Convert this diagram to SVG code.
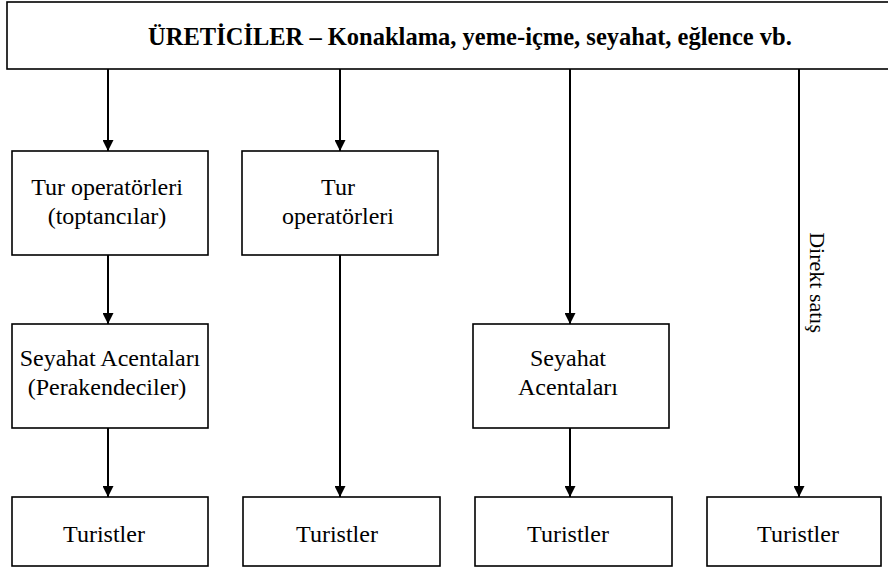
<svg xmlns="http://www.w3.org/2000/svg" width="888" height="572" viewBox="0 0 888 572">
  <defs>
    <marker id="arrow" viewBox="0 0 11 11" refX="11" refY="5.5" markerWidth="11" markerHeight="11" markerUnits="userSpaceOnUse" orient="auto">
      <path d="M0,0 L11,5.5 L0,11 Z" fill="#000"/>
    </marker>
    <style>
      .box { fill: #fff; stroke: #000; stroke-width: 1.6; }
      .lbl { font-family: "Liberation Serif", "Times New Roman", serif; font-size: 24px; fill: #000; text-anchor: middle; }
      .title { font-weight: bold; font-size: 24.5px; }
      .side { font-size: 22px; text-anchor: end; }
      .edge { stroke: #000; stroke-width: 2; fill: none; marker-end: url(#arrow); }
    </style>
  </defs>
  <rect width="888" height="572" fill="#fff"/>

  <g font-family="Liberation Serif, serif">
    <g id="ureticiler">
      <rect class="box" x="7" y="2" width="885" height="67"/>
      <text class="lbl title" x="470" y="45">ÜRETİCİLER – Konaklama, yeme-içme, seyahat, eğlence vb.</text>
    </g>

    <g id="tur-operatorleri-toptancilar">
      <rect class="box" x="12" y="151" width="196" height="104"/>
      <text class="lbl" x="107" y="195">Tur operatörleri</text>
      <text class="lbl" x="107" y="224">(toptancılar)</text>
    </g>

    <g id="tur-operatorleri">
      <rect class="box" x="242" y="151" width="196" height="104"/>
      <text class="lbl" x="338" y="195">Tur</text>
      <text class="lbl" x="338" y="224">operatörleri</text>
    </g>

    <g id="seyahat-acentalari-perakendeciler">
      <rect class="box" x="12" y="324" width="196" height="104"/>
      <text class="lbl" x="110" y="366">Seyahat Acentaları</text>
      <text class="lbl" x="107" y="395">(Perakendeciler)</text>
    </g>

    <g id="seyahat-acentalari">
      <rect class="box" x="473" y="324" width="196" height="104"/>
      <text class="lbl" x="568" y="366">Seyahat</text>
      <text class="lbl" x="568" y="395">Acentaları</text>
    </g>

    <g id="turistler-1">
      <rect class="box" x="12" y="497" width="196" height="69"/>
      <text class="lbl" x="104" y="542">Turistler</text>
    </g>
    <g id="turistler-2">
      <rect class="box" x="243" y="497" width="197" height="69"/>
      <text class="lbl" x="337" y="542">Turistler</text>
    </g>
    <g id="turistler-3">
      <rect class="box" x="475" y="497" width="197" height="69"/>
      <text class="lbl" x="568" y="542">Turistler</text>
    </g>
    <g id="turistler-4">
      <rect class="box" x="707" y="497" width="174" height="69"/>
      <text class="lbl" x="798" y="542">Turistler</text>
    </g>

    <g id="connectors">
      <line class="edge" x1="108" y1="69" x2="108" y2="151"/>
      <line class="edge" x1="108" y1="255" x2="108" y2="324"/>
      <line class="edge" x1="108" y1="428" x2="108" y2="497"/>
      <line class="edge" x1="340" y1="69" x2="340" y2="151"/>
      <line class="edge" x1="340" y1="255" x2="340" y2="497"/>
      <line class="edge" x1="570" y1="69" x2="570" y2="324"/>
      <line class="edge" x1="570" y1="428" x2="570" y2="497"/>
      <line class="edge" x1="799" y1="69" x2="799" y2="497"/>
      <text class="lbl side" transform="translate(810,333) rotate(90)" x="0" y="0">Direkt satış</text>
    </g>
  </g>
</svg>
